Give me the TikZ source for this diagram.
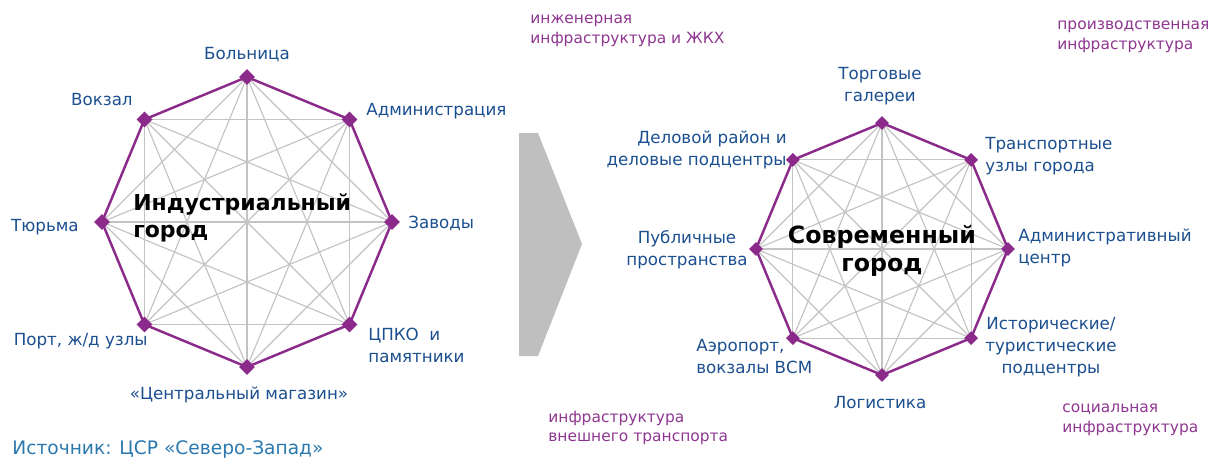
\documentclass[tikz,border=0pt]{standalone}
\usepackage{fontspec}
\setmainfont{DejaVu Sans}
\usepackage{tikz}
\usepackage{xcolor}
\usetikzlibrary{shapes.geometric, positioning, calc}

\definecolor{labelblue}{HTML}{1B4F8F}
\definecolor{srcblue}{HTML}{2B78AE}
\definecolor{ringpurple}{HTML}{8C2A8C}
\definecolor{catpurple}{HTML}{8E3690}
\definecolor{linegray}{HTML}{C3C3C3}
\definecolor{arrowgray}{HTML}{BFBFBF}

\begin{document}
\begin{tikzpicture}[x=0.02cm, y=-0.02cm,
  vertex/.style={diamond, fill=ringpurple, inner sep=0pt, minimum size=#1},
  vertex/.default=0.32cm,
  lbl/.style={text=labelblue, inner sep=0pt, font=\fontsize{9.5}{12.5}\selectfont},
  cat/.style={text=catpurple, inner sep=0pt, align=left, anchor=west, font=\fontsize{8.8}{11.3}\selectfont},
  ctr/.style={text=black, inner sep=0pt, font=\fontsize{12.5}{15.3}\selectfont\bfseries},
  chord/.style={draw=linegray, line width=0.65pt},
  ring/.style={draw=ringpurple, line width=1.4pt}]
\useasboundingbox (0,0) rectangle (1214,459);

% Transition arrow
\fill[arrowgray] (519,133) -- (538,133) -- (582,244) -- (538,356) -- (519,356) -- cycle;

% Industrial city: vertex positions
\foreach \i in {1,...,8}
  \coordinate (L\i) at ({247+145*cos(90-45*(\i-1))}, {222-145*sin(90-45*(\i-1))});
\foreach \i in {1,...,8}{
  \foreach \j in {\i,...,8}{
    \ifnum\i<\j \draw[chord] (L\i) -- (L\j); \fi}}
\draw[ring] (L1) -- (L2) -- (L3) -- (L4) -- (L5) -- (L6) -- (L7) -- (L8) -- cycle;
\foreach \i in {1,...,8}
  \node[vertex] (dL\i) at (L\i) {};
\node[ctr, align=left, anchor=west] (indcity) at (133,218) {Индустриальный\\город};

% Industrial city: labels
\node[lbl] (hosp) at (247,55) {Больница};
\node[lbl, anchor=west] (admin) at (366,111) {Администрация};
\node[lbl, anchor=west] (plants) at (408,223) {Заводы};
\node[lbl, anchor=west, align=left] (park) at (368,345) {ЦПКО\ \ и\\памятники};
\node[lbl] (store) at (239,395) {«Центральный магазин»};
\node[lbl, anchor=east] (port) at (148,341) {Порт, ж/д узлы};
\node[lbl, anchor=east] (jail) at (79,227) {Тюрьма};
\node[lbl, anchor=east] (station) at (133,100) {Вокзал};

% Modern city: vertex positions
\foreach \i in {1,...,8}
  \coordinate (R\i) at ({882+126*cos(90-45*(\i-1))}, {249-126*sin(90-45*(\i-1))});
\foreach \i in {1,...,8}{
  \foreach \j in {\i,...,8}{
    \ifnum\i<\j \draw[chord] (R\i) -- (R\j); \fi}}
\draw[ring] (R1) -- (R2) -- (R3) -- (R4) -- (R5) -- (R6) -- (R7) -- (R8) -- cycle;
\foreach \i in {1,...,8}
  \node[vertex=0.28cm] (dR\i) at (R\i) {};
\node[ctr, align=center, font=\fontsize{13.5}{15.5}\selectfont\bfseries] (modcity) at (882,251) {Современный\\город};

% Modern city: labels
\node[lbl, align=center] (malls) at (880,86) {Торговые\\галереи};
\node[lbl, align=right, anchor=east] (business) at (787,150) {Деловой район и\\деловые подцентры};
\node[lbl, align=left, anchor=west] (hubs) at (985,156) {Транспортные\\узлы города};
\node[lbl, align=center] (public) at (687,250) {Публичные\\пространства};
\node[lbl, align=left, anchor=west] (admcenter) at (1018,248) {Административный\\центр};
\node[lbl, align=center] (historic) at (1051,347) {Исторические/\\туристические\\подцентры};
\node[lbl, align=left, anchor=west] (airport) at (696,357) {Аэропорт,\\вокзалы ВСМ};
\node[lbl] (logistics) at (880,403) {Логистика};

% Infrastructure groups
\node[cat] (engineering) at (530,31) {инженерная\\инфраструктура и ЖКХ};
\node[cat] (industrial) at (1057,37) {производственная\\инфраструктура};
\node[cat] (transport) at (548,428) {инфраструктура\\внешнего транспорта};
\node[cat] (social) at (1062,420) {социальная\\инфраструктура};

% Source
\node[text=srcblue, anchor=west, inner sep=0pt, font=\fontsize{10.6}{12}\selectfont] (source) at (12,450) {Источник: ЦСР «Северо-Запад»};
\end{tikzpicture}
\end{document}
